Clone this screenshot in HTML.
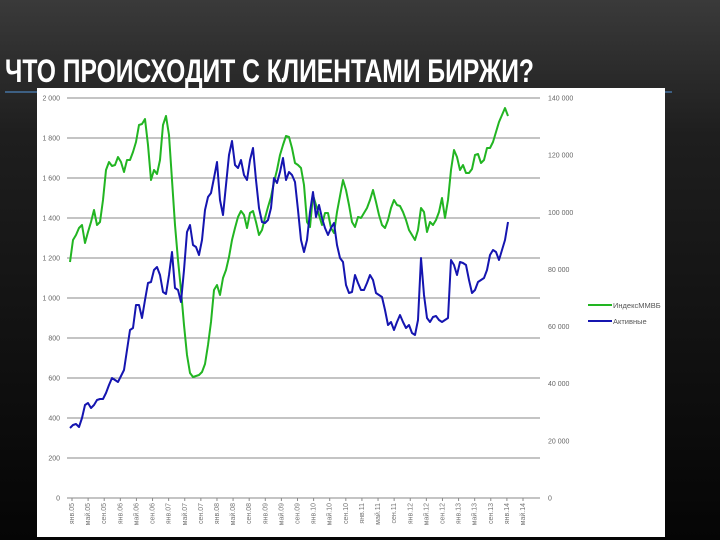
<!DOCTYPE html>
<html><head><meta charset="utf-8">
<style>
html,body{margin:0;padding:0;}
body{width:720px;height:540px;overflow:hidden;background:linear-gradient(#3a3a3a 0%,#1e1e1e 25%,#050505 100%);position:relative;font-family:"Liberation Sans",sans-serif;}
#title{position:absolute;left:5px;top:53px;color:#fff;font-family:"Liberation Sans Narrow","Liberation Sans",sans-serif;font-weight:bold;font-size:32px;white-space:nowrap;transform:scaleX(0.77);transform-origin:0 0;}
#rule{position:absolute;left:5px;top:91px;width:667px;height:2px;background:#3d5f82;}
#panel{position:absolute;left:37px;top:88px;width:628px;height:449px;background:#fff;}
svg{position:absolute;left:0;top:0;}
</style></head><body>
<div id="title">ЧТО ПРОИСХОДИТ С КЛИЕНТАМИ БИРЖИ?</div>
<div id="rule"></div>
<div id="panel"></div>
<svg id="chart" width="720" height="540"></svg>
<script>
const leftTicks=[0,200,400,600,800,1000,1200,1400,1600,1800,2000];
const leftTickLabels=["0","200","400","600","800","1 000","1 200","1 400","1 600","1 800","2 000"];
const rightTicks=[0,20,40,60,80,100,120,140];
const rightTickLabels=["0","20 000","40 000","60 000","80 000","100 000","120 000","140 000"];
const categories=["янв.05","май.05","сен.05","янв.06","май.06","сен.06","янв.07","май.07","сен.07","янв.08","май.08","сен.08","янв.09","май.09","сен.09","янв.10","май.10","сен.10","янв.11","май.11","сен.11","янв.12","май.12","сен.12","янв.13","май.13","сен.13","янв.14","май.14"];
const micex=[1180,1290,1315,1350,1365,1275,1330,1380,1440,1365,1380,1490,1640,1680,1660,1665,1705,1680,1630,1690,1690,1730,1780,1865,1870,1895,1765,1590,1640,1620,1690,1865,1910,1815,1590,1365,1190,1040,865,715,625,605,610,615,630,670,765,880,1040,1065,1015,1100,1140,1205,1290,1350,1405,1435,1415,1350,1425,1435,1380,1315,1340,1400,1455,1505,1580,1640,1715,1765,1810,1805,1750,1675,1665,1650,1565,1380,1355,1515,1465,1415,1365,1425,1425,1350,1325,1430,1510,1590,1540,1465,1380,1355,1405,1400,1425,1450,1490,1540,1480,1415,1365,1350,1390,1450,1490,1465,1460,1430,1390,1340,1315,1290,1340,1450,1430,1330,1380,1365,1390,1430,1500,1400,1490,1640,1740,1705,1640,1665,1625,1625,1645,1715,1720,1675,1690,1750,1750,1780,1830,1880,1915,1950,1910];
const active=[24.5,25.55,25.9,24.85,28.0,32.55,33.25,31.5,32.55,34.3,34.65,34.65,36.75,39.55,42.0,41.3,40.6,42.7,44.8,51.8,58.8,59.5,67.55,67.55,63.0,69.3,75.25,75.6,79.8,80.85,78.05,72.1,71.4,78.05,86.1,73.5,72.8,68.6,79.8,93.1,95.55,88.55,87.85,85.05,90.3,100.8,105.35,106.75,112.0,117.6,104.3,99.05,109.55,120.05,124.95,116.55,115.5,118.3,113.05,111.3,118.3,122.5,111.3,101.5,96.6,96.25,97.3,101.5,112.0,110.25,114.1,119.0,111.3,114.1,113.05,110.6,100.8,90.3,86.1,90.3,100.1,107.1,98.35,102.55,98.0,94.5,92.05,94.5,96.25,88.55,84.0,82.6,74.55,71.75,72.1,78.05,75.25,72.8,72.8,75.25,78.05,76.3,71.75,71.05,70.35,65.8,60.55,61.6,58.8,61.6,64.05,61.6,59.5,60.55,57.75,57.05,62.3,84.0,71.05,63.0,61.6,63.35,63.7,62.3,61.6,62.3,63.0,83.3,81.55,78.05,82.6,82.25,81.55,76.3,71.75,72.8,75.6,76.3,77.0,79.8,85.05,86.8,86.1,83.3,86.8,90.3,96.6];

const NS="http://www.w3.org/2000/svg";
const svgEl=document.getElementById('chart');
const plotTop=98,plotBottom=498,gx0=67,gx1=540;
const yL=v=>plotBottom-(v/2000)*(plotBottom-plotTop);
const yR=v=>plotBottom-(v/140)*(plotBottom-plotTop);
const xD=i=>70+i*(508-70)/(micex.length-1);
const xC=i=>72+i*(523-72)/(categories.length-1);
function mk(tag,attrs){const e=document.createElementNS(NS,tag);for(const k in attrs)e.setAttribute(k,attrs[k]);svgEl.appendChild(e);return e;}

leftTicks.forEach((v,i)=>{
  const l=mk('line',{x1:gx0,x2:gx1,y1:yL(v),y2:yL(v),stroke:'#8a8a8a','stroke-width':1});
  
  
  const t=mk('text',{x:60,y:yL(v)+2.5,'font-size':7,fill:'#666','text-anchor':'end'});
  t.textContent=leftTickLabels[i];
  
  
});
rightTicks.forEach((v,i)=>{
  const t=mk('text',{x:548,y:yR(v)+2.5,'font-size':7,fill:'#666'});
  t.textContent=rightTickLabels[i];
  
  
});
categories.forEach((c,i)=>{
  const x=xC(i);
  const tk=mk('line',{x1:x,x2:x,y1:plotBottom,y2:plotBottom+3,stroke:'#8a8a8a'});
  
  
  const t=mk('text',{x:0,y:0,'font-size':7,fill:'#777','text-anchor':'end',transform:`translate(${x+2},${plotBottom+5}) rotate(-90)`});
  t.textContent=c;
  
  
});
const pg=mk('polyline',{points:micex.map((v,i)=>xD(i)+','+yL(v)).join(' '),fill:'none',stroke:'#22b522','stroke-width':2,'stroke-linejoin':'round'});


const pb=mk('polyline',{points:active.map((v,i)=>xD(i)+','+yR(v)).join(' '),fill:'none',stroke:'#1515b0','stroke-width':2,'stroke-linejoin':'round'});



const lg1=mk('line',{x1:588,x2:612,y1:305,y2:305,stroke:'#22b522','stroke-width':2});


const lt1=mk('text',{x:613,y:308,'font-size':7.5,fill:'#555'});
lt1.textContent='ИндексММВБ';


const lg2=mk('line',{x1:588,x2:612,y1:321,y2:321,stroke:'#1515b0','stroke-width':2});


const lt2=mk('text',{x:613,y:324,'font-size':7.5,fill:'#555'});
lt2.textContent='Активные';


</script>
</body></html>
